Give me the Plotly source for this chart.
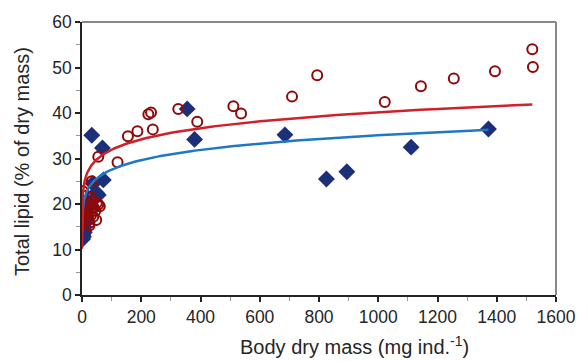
import numpy as np
import plotly.graph_objects as go

# Red open circles: body dry mass (mg ind.-1), total lipid (% dry mass)
red_x = [3, 33, 55, 120, 155, 187, 224, 233, 239, 325, 389, 511, 537, 709, 794,
         1022, 1144, 1255, 1394, 1520, 1522, 55, 60,
         5, 8, 10, 12, 15, 18, 20, 22, 25, 28, 30, 35, 40, 45, 48, 30, 15, 6, 38, 20, 50, 25]
red_y = [22.8, 25.0, 30.4, 29.2, 34.9, 36.0, 39.7, 40.1, 36.4, 40.9, 38.1, 41.5, 39.9, 43.6, 48.3,
         42.4, 45.9, 47.6, 49.2, 54.0, 50.1, 19.9, 19.5,
         19.5, 18.5, 17.8, 19.0, 20.3, 18.0, 17.2, 16.5, 15.8, 18.8, 17.5, 20.5, 19.2, 18.5, 16.5,
         21.5, 21.8, 17.5, 17.2, 19.8, 20.2, 15.3]

# Blue diamonds
blue_x = [1372, 1111, 894, 825, 685, 380, 355, 33, 69, 72, 37, 55, 48,
          2, 3, 4, 6, 2, 5, 8, 3, 10, 20, 25]
blue_y = [36.5, 32.5, 27.1, 25.5, 35.2, 34.2, 40.9, 35.1, 32.3, 25.3, 24.5, 22.0, 22.5,
          12.3, 13.2, 14.3, 15.0, 14.6, 12.8, 13.8, 15.5, 16.0, 20.5, 19.5]

# Power-law trend lines y = a * x^b
red_fit = dict(a=20.2, b=0.0995, xmin=0.001, xmax=1520)
blue_fit = dict(a=17.0, b=0.105, xmin=0.15, xmax=1372)

x_ticks = [0, 200, 400, 600, 800, 1000, 1200, 1400, 1600]
y_ticks = [0, 10, 20, 30, 40, 50, 60]
x_title = "Body dry mass (mg ind.<sup>-1</sup>)"
y_title = "Total lipid (% of dry mass)"


def curve(p):
    xs = np.geomspace(p["xmin"], p["xmax"], 400)
    return xs, p["a"] * xs ** p["b"]


fig = go.Figure()
fig.add_trace(go.Scatter(x=blue_x, y=blue_y, mode="markers",
                         marker=dict(symbol="diamond", size=13, color="#1e2f7a",
                                     line=dict(width=0))))
fig.add_trace(go.Scatter(x=red_x, y=red_y, mode="markers",
                         marker=dict(symbol="circle-open", size=10, color="#8e0a0a",
                                     line=dict(width=2, color="#8e0a0a"))))
bx, by = curve(blue_fit)
fig.add_trace(go.Scatter(x=bx, y=by, mode="lines", line=dict(color="#1f78c4", width=2.5)))
rx, ry = curve(red_fit)
fig.add_trace(go.Scatter(x=rx, y=ry, mode="lines", line=dict(color="#d0202a", width=2.5)))

font_fam = "Liberation Sans, Arial, sans-serif"
fs = 17.5
title_fs = 20
fig.update_layout(
    width=588, height=361,
    margin=dict(l=82, r=26, t=13, b=66),
    paper_bgcolor="white", plot_bgcolor="white",
    showlegend=False,
    font=dict(family=font_fam, size=fs, color="#262626"),
    xaxis=dict(range=[0, 1600], tickvals=x_ticks, showgrid=False, zeroline=False,
               showline=True, linecolor="#222", linewidth=1.5,
               ticks="outside", ticklen=5, tickwidth=1.5, tickcolor="#222",
               minor=dict(dtick=100, ticks="outside", ticklen=4, tickcolor="#999", tickwidth=1.2),
               tickfont=dict(size=fs)),
    yaxis=dict(range=[0, 60], tickvals=y_ticks, showgrid=False, zeroline=False,
               showline=True, linecolor="#222", linewidth=1.5,
               ticks="outside", ticklen=5, tickwidth=1.5, tickcolor="#222",
               minor=dict(dtick=5, ticks="outside", ticklen=4, tickcolor="#999", tickwidth=1.2),
               tickfont=dict(size=fs)),
    annotations=[
        dict(text=x_title, xref="paper", yref="paper", x=0.575, y=-0.184,
             xanchor="center", yanchor="middle", showarrow=False,
             font=dict(size=title_fs, family=font_fam, color="#262626")),
        dict(text=y_title, xref="paper", yref="paper", x=-0.127, y=0.49,
             xanchor="center", yanchor="middle", showarrow=False, textangle=-90,
             font=dict(size=title_fs, family=font_fam, color="#262626")),
    ],
    shapes=[
        dict(type="line", xref="paper", yref="paper", x0=0, x1=1, y0=1, y1=1,
             line=dict(color="#888", width=2)),
        dict(type="line", xref="paper", yref="paper", x0=1, x1=1, y0=0, y1=1,
             line=dict(color="#888", width=2)),
    ],
)

fig.write_html("out.html")
